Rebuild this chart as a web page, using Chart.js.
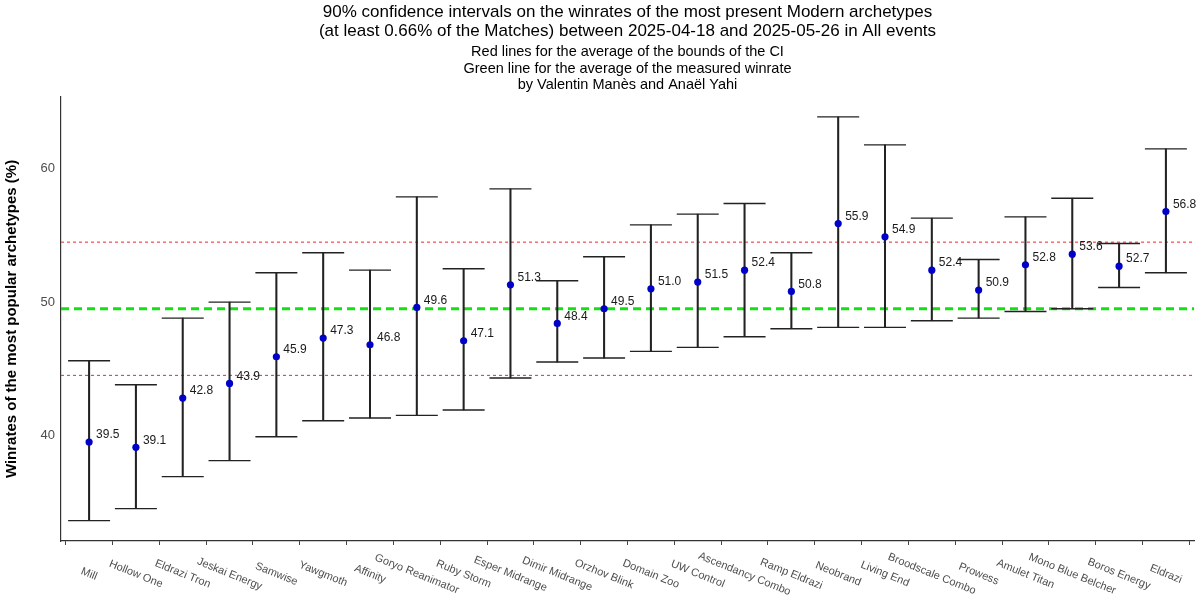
<!DOCTYPE html>
<html>
<head>
<meta charset="utf-8">
<script src="https://cdn.jsdelivr.net/npm/chart.js@4.4.1/dist/chart.umd.min.js"></script>
<style>
  html, body { margin: 0; padding: 0; background: #fff; }
</style>
</head>
<body>
<canvas id="id_graph" width="1200" height="600"></canvas>
<script>
// archetypes, sorted like the original plot
var archetypes = ['Mill', 'Hollow One', 'Eldrazi Tron', 'Jeskai Energy', 'Samwise', 'Yawgmoth',
  'Affinity', 'Goryo Reanimator', 'Ruby Storm', 'Esper Midrange', 'Dimir Midrange', 'Orzhov Blink',
  'Domain Zoo', 'UW Control', 'Ascendancy Combo', 'Ramp Eldrazi', 'Neobrand', 'Living End',
  'Broodscale Combo', 'Prowess', 'Amulet Titan', 'Mono Blue Belcher', 'Boros Energy', 'Eldrazi'];

// measured winrates (%)
var winrates = [39.5, 39.1, 42.8, 43.9, 45.9, 47.3, 46.8, 49.6, 47.1, 51.3, 48.4, 49.5,
  51.0, 51.5, 52.4, 50.8, 55.9, 54.9, 52.4, 50.9, 52.8, 53.6, 52.7, 56.8];

// 90% CI bounds (%)
var lowerBounds = [33.6, 34.5, 36.9, 38.1, 39.9, 41.1, 41.3, 41.5, 41.9, 44.3, 45.5, 45.8,
  46.3, 46.6, 47.4, 48.0, 48.1, 48.1, 48.6, 48.8, 49.3, 49.5, 51.1, 52.2];
var upperBounds = [45.6, 43.8, 48.8, 50.0, 52.2, 53.7, 52.4, 57.9, 52.5, 58.5, 51.6, 53.4,
  55.8, 56.6, 57.4, 53.7, 63.9, 61.8, 56.3, 53.2, 56.4, 57.8, 54.4, 61.5];

var yTickValues = [40, 50, 60];

// reference lines
var avgLowerBound = 44.5;
var avgUpperBound = 54.5;
var avgWinrate = 49.5;

Chart.defaults.font.family = "'Liberation Sans', Arial, sans-serif";

function pts(values) {
  return values.map(function (v, i) { return { x: i, y: v }; });
}

var xMin = -0.6;
var xMax = archetypes.length - 1 + 0.6;

function hline(v) {
  return [{ x: xMin, y: v }, { x: xMax, y: v }];
}

// value labels next to the points + slanted category labels
var labelsPlugin = {
  id: 'labelsPlugin',
  afterDatasetsDraw: function (chart) {
    var ctx = chart.ctx;
    var xs = chart.scales.x, ys = chart.scales.y;
    ctx.save();
    ctx.font = "12px 'Liberation Sans', Arial, sans-serif";
    ctx.fillStyle = '#1a1a1a';
    ctx.textAlign = 'left';
    ctx.textBaseline = 'middle';
    winrates.forEach(function (v, i) {
      ctx.fillText(v.toFixed(1), xs.getPixelForValue(i) + 7, ys.getPixelForValue(v) - 7);
    });
    ctx.font = "11px 'Liberation Sans', Arial, sans-serif";
    ctx.fillStyle = '#4d4d4d';
    ctx.textAlign = 'center';
    archetypes.forEach(function (name, i) {
      ctx.save();
      ctx.translate(xs.getPixelForValue(i), xs.bottom - 26);
      ctx.rotate(22 * Math.PI / 180);
      ctx.fillText(name, 0, 0);
      ctx.restore();
    });
    ctx.restore();
  }
};

var ctx = document.getElementById('id_graph').getContext('2d');
new Chart(ctx, {
  type: 'line',
  data: {
    datasets: [{
      label: 'Winrate',
      data: pts(winrates),
      showLine: false,
      pointRadius: 3.6,
      pointBackgroundColor: '#0000c8',
      pointBorderWidth: 0
    }, {
      label: 'Upper',
      data: pts(upperBounds),
      showLine: false,
      pointStyle: 'line',
      pointRadius: 21,
      pointBorderWidth: 1.4,
      pointBorderColor: '#222'
    }, {
      label: 'Lower',
      data: pts(lowerBounds),
      showLine: false,
      pointStyle: 'line',
      pointRadius: 21,
      pointBorderWidth: 1.4,
      pointBorderColor: '#222'
    }, {
      type: 'bar',
      label: 'CI',
      data: lowerBounds.map(function (lo, i) { return { x: i, y: [lo, upperBounds[i]] }; }),
      barThickness: 1.4,
      backgroundColor: '#222',
      borderWidth: 0
    }, {
      label: 'Avg winrate',
      data: hline(avgWinrate),
      borderColor: '#14e014',
      borderWidth: 2.8,
      borderDash: [8, 5],
      pointRadius: 0
    }, {
      label: 'Avg upper',
      data: hline(avgUpperBound),
      borderColor: '#f03a3a',
      borderWidth: 1.1,
      borderDash: [3, 3],
      pointRadius: 0
    }, {
      label: 'Avg lower',
      data: hline(avgLowerBound),
      borderColor: '#f03a3a',
      borderWidth: 1.1,
      borderDash: [3, 3],
      pointRadius: 0
    }]
  },
  options: {
    responsive: false,
    animation: false,
    layout: { autoPadding: false, padding: { left: 0, right: 6, top: 0, bottom: 0 } },
    plugins: {
      legend: { display: false },
      tooltip: { enabled: false },
      title: {
        display: true,
        fullSize: false,
        text: ['90% confidence intervals on the winrates of the most present Modern archetypes',
          '(at least 0.66% of the Matches) between 2025-04-18 and 2025-05-26 in All events'],
        color: '#000',
        font: { size: 17, weight: 'normal', lineHeight: 1.1 },
        padding: { top: 3.3, bottom: 1 }
      },
      subtitle: {
        display: true,
        fullSize: false,
        text: ['Red lines for the average of the bounds of the CI',
          'Green line for the average of the measured winrate',
          'by Valentin Manès and Anaël Yahi'],
        color: '#000',
        font: { size: 14.5, lineHeight: 1.15 },
        padding: { top: 2, bottom: 3.2 }
      }
    },
    scales: {
      x: {
        type: 'linear',
        min: xMin,
        max: xMax,
        offset: false,
        afterBuildTicks: function (scale) {
          scale.ticks = archetypes.map(function (a, i) { return { value: i }; });
        },
        afterFit: function (scale) { scale.height = 59; },
        ticks: { display: false },
        grid: { display: true, drawOnChartArea: false, drawTicks: true, tickLength: 4, color: '#444' },
        border: { display: true, color: '#333', width: 1.2 }
      },
      y: {
        min: 32.07,
        max: 65.4,
        afterBuildTicks: function (scale) {
          scale.ticks = yTickValues.map(function (v) { return { value: v }; });
        },
        afterFit: function (scale) { scale.width = 61; },
        ticks: { color: '#4d4d4d', font: { size: 13 }, padding: 6 },
        grid: { display: false, drawTicks: false },
        border: { display: true, color: '#333', width: 1.2 },
        title: {
          display: true,
          text: 'Winrates of the most popular archetypes (%)',
          color: '#000',
          font: { size: 15, weight: 'bold' },
          padding: { top: 3, bottom: 0 }
        }
      }
    }
  },
  plugins: [labelsPlugin]
});
</script>
</body>
</html>
